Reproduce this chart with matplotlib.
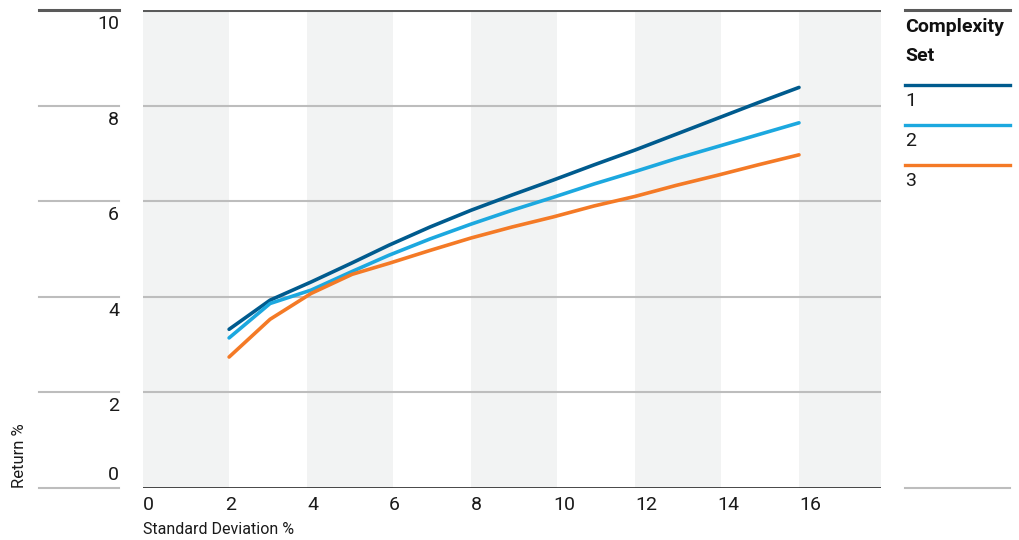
import matplotlib
matplotlib.use("Agg")
import matplotlib.pyplot as plt
import matplotlib.transforms as mtransforms

plt.rcParams['font.family'] = ['Liberation Sans Narrow', 'Roboto', 'DejaVu Sans']

# standard deviation (%) and return (%) per complexity set
std_dev = [2.1, 3.1, 4.1, 5.1, 6, 7, 8, 9, 10, 11, 12, 13, 14, 15, 16]
set_1 = [3.32, 3.93, 4.31, 4.71, 5.08, 5.46, 5.81, 6.13, 6.44, 6.76, 7.07, 7.40, 7.73, 8.06, 8.38]
set_2 = [3.14, 3.86, 4.14, 4.53, 4.87, 5.21, 5.52, 5.81, 6.08, 6.36, 6.62, 6.89, 7.14, 7.39, 7.64]
set_3 = [2.74, 3.53, 4.07, 4.47, 4.70, 4.97, 5.23, 5.46, 5.67, 5.90, 6.10, 6.33, 6.54, 6.76, 6.97]
series = [("1", set_1, "#005b8e"), ("2", set_2, "#1ca8df"), ("3", set_3, "#f47a26")]

x_ticks = [0, 2, 4, 6, 8, 10, 12, 14, 16]
y_ticks = [0, 2, 4, 6, 8, 10]

W, H = 1019, 540
fig = plt.figure(figsize=(W / 100, H / 100), dpi=100)
ax = fig.add_axes([143 / W, 1 - 488 / H, 738 / W, 478 / H])
ax.set_xlim(0, 18)
ax.set_ylim(0, 10)

# alternating shaded columns
for x0 in range(0, 18, 4):
    ax.axvspan(x0, x0 + 2.1, color="#f2f3f3", lw=0, zorder=0)

for name, vals, col in series:
    ax.plot(std_dev, vals, color=col, lw=2.6, solid_capstyle="round", zorder=3)

for spine in ax.spines.values():
    spine.set_visible(False)
ax.set_yticks([])
ax.set_xticks(x_ticks)
ax.set_xticklabels([str(t) for t in x_ticks], ha="left", fontsize=14, color="#1a1a1a")
ax.tick_params(axis="x", length=0, pad=6)

# horizontal rules: inside the plot, beside the tick labels and under the legend
mixed = mtransforms.blended_transform_factory(fig.transFigure, ax.transData)
for y in y_ticks:
    if y == 10:
        col, lw = "#5a5a5a", 2.2
    else:
        col, lw = "#bdbdbd", 1.5
    if y == 0:
        ax.axhline(y, color="#111111", lw=1.8, zorder=2)
    else:
        ax.axhline(y, color=col, lw=lw, zorder=2)
    fig.add_artist(plt.Line2D([39 / W, 119 / W], [y, y], transform=mixed, color=col, lw=lw))
    if y in (0, 10):
        fig.add_artist(plt.Line2D([905 / W, 1010 / W], [y, y], transform=mixed, color=col, lw=lw))

# y tick labels hang below their rule, except the zero which sits on it
for y in y_ticks:
    if y == 0:
        tr = mtransforms.offset_copy(mixed, fig=fig, y=4, units="dots")
        va = "bottom"
    else:
        tr = mtransforms.offset_copy(mixed, fig=fig, y=-5, units="dots")
        va = "top"
    fig.text(119 / W, y, str(y), transform=tr, ha="right", va=va, fontsize=14, color="#1a1a1a")

fig.text(143 / W, 1 - 537 / H, "Standard Deviation %", ha="left", va="bottom", fontsize=11.5, color="#1a1a1a")
fig.text(20 / W, 1 - 488 / H, "Return %", rotation=90, ha="center", va="bottom", fontsize=12, color="#1a1a1a")

# legend
fig.text(905 / W, 1 - 18 / H, "Complexity", ha="left", va="top", fontsize=14, fontweight="bold", color="#111111")
fig.text(905 / W, 1 - 47 / H, "Set", ha="left", va="top", fontsize=14, fontweight="bold", color="#111111")
for i, (name, vals, col) in enumerate(series):
    ly = 84.5 + 40 * i
    fig.add_artist(plt.Line2D([905 / W, 1010 / W], [1 - ly / H, 1 - ly / H], color=col, lw=2.4))
    fig.text(905 / W, 1 - (ly + 7) / H, name, ha="left", va="top", fontsize=14, color="#1a1a1a")

fig.savefig("out.png", dpi=100)
